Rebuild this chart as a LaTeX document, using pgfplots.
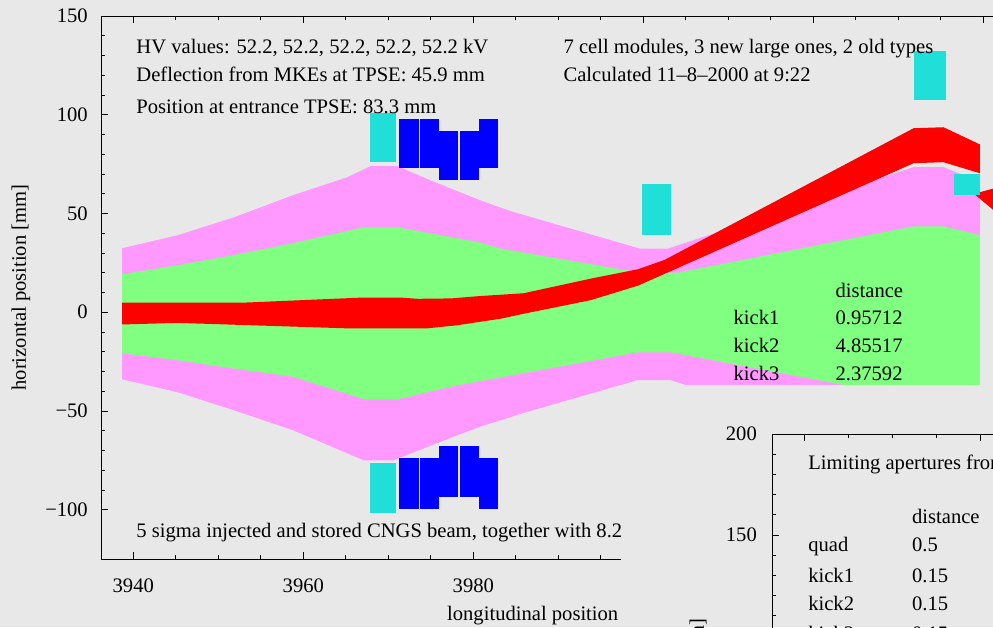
\documentclass[border=0pt]{standalone}
\usepackage{fontspec}
\setmainfont{Liberation Serif}
\usepackage{pgfplots}
\pgfplotsset{compat=1.18}
\definecolor{bg}{RGB}{232,232,232}
\definecolor{pinkb}{RGB}{255,153,255}
\definecolor{greenb}{RGB}{128,255,128}
\definecolor{cyanb}{RGB}{32,222,216}
\definecolor{blueb}{RGB}{0,0,255}
\newcommand{\f}{\fontsize{20.6}{25}\selectfont}
\pgfplotsset{
  chartstyle/.style={
    scale only axis,
    tick align=inside,
    major tick length=7pt, minor tick length=4pt,
    axis line style={line width=0.8pt},
    every tick/.style={black, line width=0.7pt},
    every tick label/.append style={font=\f},
    /pgf/number format/assume math mode=true,
    label style={font=\f},
    ytick pos=left,
  }
}
\begin{document}
\begin{tikzpicture}[x=1pt,y=1pt]
\fill[bg] (0,0) rectangle (993,627);
\path[use as bounding box] (0,0) rectangle (993,627);
\clip (0,0) rectangle (993,627);
% ---------------- main chart ----------------
\begin{axis}[chartstyle,
  width=924.8pt, height=542.9pt,
  at={(101pt,68pt)}, anchor=south west,
  xmin=3936.2, xmax=4045, ymin=-125, ymax=150,
  xtick={3940,3960,3980,4000,4020,4040},
  xticklabels={3940,3960,3980,{},{},{}},
  minor x tick num=3,
  ytick={-100,-50,0,50,100,150},
  yticklabels={−100,−50,0,50,100,150},
  minor y tick num=4,
  xticklabel style={anchor=base, inner sep=0pt, yshift=-33pt},
  yticklabel style={anchor=east, inner sep=0pt, xshift=-13pt},
  xlabel={longitudinal position [m]},
  xlabel style={at={(rel axis cs:0.3741,0)}, anchor=base west, inner sep=0pt, yshift=-61pt},
  ylabel={horizontal position [mm]},
  ylabel style={at={(rel axis cs:-0.0865,0.5)}, anchor=center, rotate=0},
]
% pink envelope
\addplot[fill=pinkb, draw=none] coordinates {
 (3938.7,32.4) (3945.2,39) (3951.8,48) (3958.8,59.3) (3965.2,68.4) (3967.9,74) (3971.1,74)
 (3974.9,66.9) (3980.8,56.7) (3984.4,51.2) (3999.6,32.2) (4002.9,32.2) (4031.8,73.5)
 (4035.3,73.5) (4039.6,66)
 (4039.6,-66) (4035.3,-73.5) (4031.8,-73.5) (4003.2,-34.4) (3999.3,-34.4) (3985.9,-51)
 (3980.8,-58) (3978.1,-62.3) (3970.6,-75) (3967.1,-75) (3958.8,-59.8) (3951.8,-49.6)
 (3945.2,-40.5) (3938.7,-34)} -- cycle;
% green envelope
\addplot[fill=greenb, draw=none] coordinates {
 (3938.7,19.3) (3945.2,23.8) (3951.8,28.9) (3958.8,35) (3967.1,43) (3971.1,43) (3974.9,40)
 (3980.8,35.3) (3983.2,32.2) (3999.6,20) (4004,20) (4031.8,43.5) (4035.3,43.5) (4039.6,39)
 (4039.6,-39) (4035.3,-43.5) (4031.8,-43.5) (4003.2,-20.3) (3999.3,-20.3) (3983.2,-33)
 (3978.1,-37) (3971.1,-44) (3967.1,-44) (3958.8,-32.7) (3951.8,-28.5) (3945.2,-24.3)
 (3938.7,-20.8)} -- cycle;
% red beam
\addplot[fill=red, draw=none] coordinates {
 (3938.7,4.8) (3952.7,4.8) (3966.8,7.4) (3971.5,7.4) (3973.5,6.8) (3977.4,7) (3980.8,8.2)
 (3985.9,9.6) (3993.8,17.0) (3999.4,21.8) (4002.5,26.5) (4031.8,93.2) (4035.3,93.7) (4039.6,85)
 (4039.6,70.4) (4035.3,76) (4031.8,75.5) (3999.4,13.5) (3993.8,6.1) (3985.9,-0.8)
 (3983.2,-3.3) (3978.1,-6.6) (3974.5,-8.2) (3965.4,-8.2) (3945.2,-5.4) (3938.7,-6.2)} -- cycle;
\addplot[fill=red, draw=none] coordinates {(4038.9,60) (4045,67) (4045,38)} -- cycle;
% cyan apertures
\addplot[fill=cyanb, draw=none] coordinates {(3967.9,76) (3970.9,76) (3970.9,100.8) (3967.9,100.8)} -- cycle;
\addplot[fill=cyanb, draw=none] coordinates {(3967.9,-76.5) (3970.9,-76.5) (3970.9,-101.8) (3967.9,-101.8)} -- cycle;
\addplot[fill=cyanb, draw=none] coordinates {(3999.9,39) (4003.2,39) (4003.2,64.8) (3999.9,64.8)} -- cycle;
\addplot[fill=cyanb, draw=none] coordinates {(4031.8,107.4) (4035.6,107.4) (4035.6,132.2) (4031.8,132.2)} -- cycle;
\addplot[fill=cyanb, draw=none] coordinates {(4036.6,59.3) (4039.6,59.3) (4039.6,69.9) (4036.6,69.9)} -- cycle;
% blue kicker modules (top)
\addplot[fill=blueb, draw=none] coordinates {(3971.3,72.9) (3973.65,72.9) (3973.65,97.8) (3971.3,97.8)} -- cycle;
\addplot[fill=blueb, draw=none] coordinates {(3973.76,72.9) (3976.0,72.9) (3976.0,97.8) (3973.76,97.8)} -- cycle;
\addplot[fill=blueb, draw=none] coordinates {(3976.0,66.9) (3978.24,66.9) (3978.24,91.7) (3976.0,91.7)} -- cycle;
\addplot[fill=blueb, draw=none] coordinates {(3978.47,66.9) (3980.71,66.9) (3980.71,91.7) (3978.47,91.7)} -- cycle;
\addplot[fill=blueb, draw=none] coordinates {(3980.71,72.9) (3982.94,72.9) (3982.94,97.8) (3980.71,97.8)} -- cycle;
% blue kicker modules (bottom)
\addplot[fill=blueb, draw=none] coordinates {(3971.3,-74) (3973.65,-74) (3973.65,-99.8) (3971.3,-99.8)} -- cycle;
\addplot[fill=blueb, draw=none] coordinates {(3973.76,-74) (3976.0,-74) (3976.0,-99.8) (3973.76,-99.8)} -- cycle;
\addplot[fill=blueb, draw=none] coordinates {(3976.0,-67.9) (3978.24,-67.9) (3978.24,-93.7) (3976.0,-93.7)} -- cycle;
\addplot[fill=blueb, draw=none] coordinates {(3978.47,-67.9) (3980.71,-67.9) (3980.71,-93.7) (3978.47,-93.7)} -- cycle;
\addplot[fill=blueb, draw=none] coordinates {(3980.71,-74) (3982.94,-74) (3982.94,-99.8) (3980.71,-99.8)} -- cycle;
% texts
\begin{scope}[every node/.style={anchor=base west, inner sep=0pt, font=\f}]
\node at (axis cs:3940.35,131.2) {HV values: 52.2, 52.2, 52.2, 52.2, 52.2 kV};
\node at (axis cs:3940.35,117) {Deflection from MKEs at TPSE: 45.9 mm};
\node at (axis cs:3940.35,100.8) {Position at entrance TPSE: 83.3 mm};
\node at (axis cs:3990.6,131.2) {7 cell modules, 3 new large ones, 2 old types};
\node at (axis cs:3990.6,117) {Calculated 11–8–2000 at 9:22};
\node at (axis cs:3940.35,-114) {5 sigma injected and stored CNGS beam, together with 8.2 mm};
\node at (axis cs:4022.6,7.6) {distance};
\node at (axis cs:4010.6,-6.1) {kick1};
\node at (axis cs:4022.6,-6.1) {0.95712};
\node at (axis cs:4010.6,-20.3) {kick2};
\node at (axis cs:4022.6,-20.3) {4.85517};
\node at (axis cs:4010.6,-34.4) {kick3};
\node at (axis cs:4022.6,-34.4) {2.37592};
\end{scope}
\end{axis}
% ---------------- overlapping second chart ----------------
\fill[bg] (621,0) rectangle (993,242);
\begin{axis}[chartstyle,
  width=956.6pt, height=575.7pt,
  at={(772pt,-382.7pt)}, anchor=south west,
  xmin=3936.3, xmax=4045, ymin=-85, ymax=200,
  xtick={3940,3960,3980,4000,4020,4040},
  xticklabels={},
  minor x tick num=3,
  ytick={0,50,100,150,200},
  yticklabels={0,50,100,150,200},
  minor y tick num=4,
  yticklabel style={anchor=east, inner sep=0pt, xshift=-15pt},
  ylabel={horizontal position [mm]},
  ylabel style={at={(rel axis cs:-0.0763,0.5)}, anchor=center, rotate=0},
]
\begin{scope}[every node/.style={anchor=base west, inner sep=0pt, font=\f}]
\node at (axis cs:3940.4,182.2) {Limiting apertures from beam axis [mm]};
\node at (axis cs:3952.2,155.9) {distance};
\node at (axis cs:3940.4,141.6) {quad};
\node at (axis cs:3952.2,141.6) {0.5};
\node at (axis cs:3940.4,126.7) {kick1};
\node at (axis cs:3952.2,126.7) {0.15};
\node at (axis cs:3940.4,112.4) {kick2};
\node at (axis cs:3952.2,112.4) {0.15};
\node at (axis cs:3940.4,98) {kick3};
\node at (axis cs:3952.2,98) {0.15};
\end{scope}
\end{axis}
\end{tikzpicture}
\end{document}
